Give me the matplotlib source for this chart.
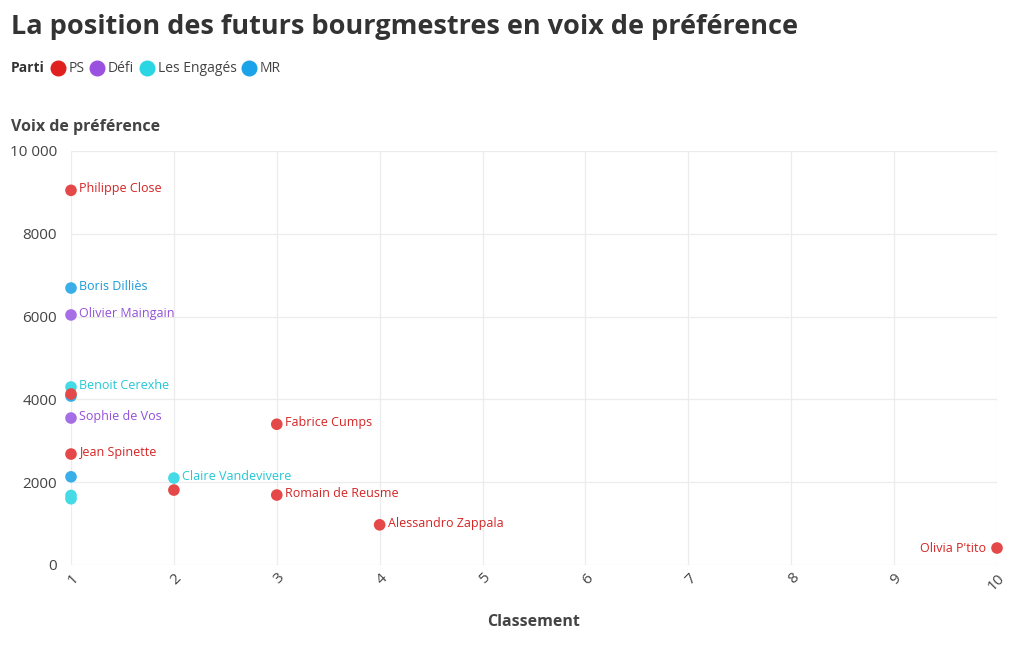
import matplotlib
matplotlib.use("Agg")
import matplotlib.pyplot as plt
from matplotlib.lines import Line2D
from matplotlib.ticker import FuncFormatter

plt.rcParams["font.family"] = ["Open Sans", "DejaVu Sans"]

parties = ["PS", "Défi", "Les Engagés", "MR"]
party_colors = {"PS": "#e0201e", "Défi": "#9b51e0", "Les Engagés": "#2ad6e3", "MR": "#1aa3e8"}
point_colors = {"PS": "#e54848", "Défi": "#a66ee6", "Les Engagés": "#45dbe6", "MR": "#3aaee9"}
text_colors = {"PS": "#d42424", "Défi": "#9350d8", "Les Engagés": "#22c8d6", "MR": "#1a9ad8"}

names = ["Philippe Close", "Boris Dilliès", "Olivier Maingain", "Benoit Cerexhe", "",
         "", "Sophie de Vos", "Fabrice Cumps", "Jean Spinette", "",
         "Claire Vandevivere", "", "Romain de Reusme", "", "",
         "Alessandro Zappala", "Olivia P'tito"]
rank = [1, 1, 1, 1, 1, 1, 1, 3, 1, 1, 2, 2, 3, 1, 1, 4, 10]
votes = [9050, 6690, 6040, 4300, 4080, 4130, 3550, 3400, 2680, 2130,
         2100, 1810, 1690, 1680, 1600, 970, 410]
party = ["PS", "MR", "Défi", "Les Engagés", "MR", "PS", "Défi", "PS", "PS", "MR",
         "Les Engagés", "PS", "PS", "Les Engagés", "Les Engagés", "PS", "PS"]

fig = plt.figure(figsize=(10.2, 6.5), dpi=100)
ax = fig.add_axes([71 / 1020, 85 / 650, 926 / 1020, 414 / 650])

for n, x, y, p in zip(names, rank, votes, party):
    ax.scatter(x, y, s=70, color=point_colors[p], edgecolors="none", zorder=3, clip_on=False)
    if n:
        if x == 10:
            ax.annotate(n, (x, y), xytext=(-8, 0), textcoords="offset points", ha="right",
                        va="center", fontsize=9, color=text_colors[p])
        else:
            ax.annotate(n, (x, y), xytext=(6, 1), textcoords="offset points", ha="left",
                        va="center", fontsize=9, color=text_colors[p])

ax.set_xlim(1, 10)
ax.set_ylim(0, 10000)
ax.set_xticks(range(1, 11))
ax.set_yticks(range(0, 10001, 2000))
ax.yaxis.set_major_formatter(FuncFormatter(lambda v, _: "10 000" if v == 10000 else f"{int(v)}"))
ax.grid(True, color="#ececec", linewidth=0.9)
ax.set_axisbelow(True)
for s in ax.spines.values():
    s.set_visible(False)
ax.tick_params(length=0, labelsize=11, colors="#444444")
ax.tick_params(axis="y", pad=10)
for lbl in ax.get_xticklabels():
    lbl.set_rotation(45)
    lbl.set_ha("right")
    lbl.set_va("top")
    lbl.set_rotation_mode("anchor")
ax.tick_params(axis="x", pad=4)

ax.set_xlabel("Classement", fontsize=11.5, fontweight="bold", color="#444444", labelpad=15)

fig.text(11 / 1020, 1 - 27 / 650, "La position des futurs bourgmestres en voix de préférence",
         fontsize=19.5, fontweight="bold", color="#333333", va="center", ha="left")
fig.text(11 / 1020, 1 - 127 / 650, "Voix de préférence", fontsize=11.5, fontweight="bold",
         color="#444444", va="center", ha="left")

# legend row, laid out left to right by measured text widths
ly = 1 - 68 / 650
renderer = fig.canvas.get_renderer()
t = fig.text(11 / 1020, ly, "Parti", fontsize=10, fontweight="bold", color="#333333", va="center")
x_px = t.get_window_extent(renderer).x1 + 13
for p in parties:
    fig.add_artist(Line2D([x_px / 1020], [ly], marker="o", markersize=10.5, color=party_colors[p],
                          linestyle="none", transform=fig.transFigure))
    t = fig.text((x_px + 10.5) / 1020, ly, p, fontsize=10, color="#444444", va="center")
    x_px = t.get_window_extent(renderer).x1 + 13

fig.savefig("out.png", dpi=100, facecolor="white")
